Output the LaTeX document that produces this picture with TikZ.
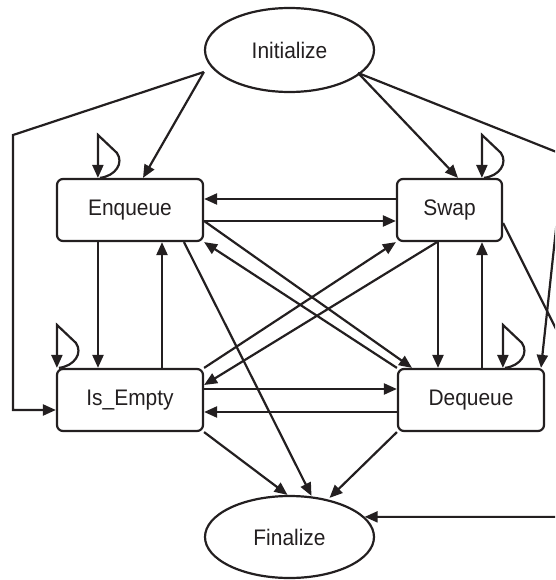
\documentclass[tikz,border=0pt]{standalone}
\usepackage{fontspec}
\setmainfont[FakeStretch=0.93]{Liberation Sans}
\usetikzlibrary{shapes.geometric,arrows.meta,calc}

% small self-transition drawn on the top edge of a state box
% #1 = node name, #2 = horizontal offset from the box's left edge
\newcommand\drawselfloop[2]{%
  \draw[edge] ($(#1.north west)+(#2+2,0)$)
      .. controls +(16,-2) and +(7,10) .. ($(#1.north west)+(#2+19,-25)$)
      -- ($(#1.north west)+(#2,-43)$) -- ($(#1.north west)+(#2,0)$);}

\begin{document}
\begin{tikzpicture}[x=1pt,y=-1pt,
  line width=2.2pt, draw={rgb,255:red,35;green,31;blue,32},
  every node/.style={font=\fontsize{22.5}{26}\selectfont, text={rgb,255:red,35;green,31;blue,32}},
  state/.style={draw, rounded corners=6pt, minimum height=62pt, inner sep=0pt},
  terminal/.style={draw, ellipse, minimum width=169pt, minimum height=84pt, inner sep=0pt},
  edge/.style={-{Triangle[length=13pt,width=11pt]}, line join=miter}]
  \clip (0,0) rectangle (555,580);

  % states
  \node[terminal] (init) at (289.5,50) {Initialize};
  \node[state, minimum width=146pt] (enq)  at (130,210)   {Enqueue};
  \node[state, minimum width=105pt] (swap) at (449.5,210) {Swap};
  \node[state, minimum width=146pt] (ise)  at (130,400)   {Is\_Empty};
  \node[state, minimum width=146pt] (deq)  at (471,400)   {Dequeue};
  \node[terminal, minimum height=82pt] (fin) at (289.5,537) {Finalize};

  % corner points just beside the initial state
  \coordinate (initL) at ($(init.west)+(0,22)$);
  \coordinate (initR) at ($(init.east)+(-17,23)$);

  % transitions out of Initialize
  \draw[edge] (initL) -- (143,0 |- enq.north);
  \draw[edge] (initL) -- (13,135) |- ($(ise.west)+(0,10)$);
  \draw[edge] (initR) -- (458,0 |- swap.north);
  \draw[edge] (initR) -- (564,155) -- (541,0 |- deq.north);

  % Enqueue <-> Swap, Is_Empty <-> Dequeue
  \draw[edge] ($(swap.west)+(0,-11)$) -- ($(enq.east)+(0,-11)$);
  \draw[edge] ($(enq.east)+(0,11)$) -- ($(swap.west)+(0,11)$);
  \draw[edge] ($(ise.east)+(0,-11)$) -- ($(deq.west)+(0,-11)$);
  \draw[edge] ($(deq.west)+(0,12)$) -- ($(ise.east)+(0,12)$);

  % vertical pairs
  \draw[edge] (98,0 |- enq.south) -- (98,0 |- ise.north);
  \draw[edge] (162,0 |- ise.north) -- (162,0 |- enq.south);
  \draw[edge] (438,0 |- swap.south) -- (438,0 |- deq.north);
  \draw[edge] (482,0 |- deq.north) -- (482,0 |- swap.south);

  % diagonals
  \draw[edge] ($(enq.east)+(0,11)$) -- (412,0 |- deq.north);
  \draw[edge] (deq.north west) -- (enq.south east);
  \draw[edge] (ise.north east) -- (swap.south west);
  \draw[edge] (437,0 |- swap.south) -- ($(ise.east)+(0,-15)$);

  % into Finalize
  \draw[edge] (184,0 |- enq.south) -- ($(fin.north)+(22,1)$);
  \draw[edge] (ise.south east) -- ($(fin.north)+(-2,0)$);
  \draw[edge] (deq.south west) -- ($(fin.north)+(40,3)$);
  \draw[edge] ($(swap.east)+(0,13)$) -- (563,343) |- (fin.15);

  % self-transitions
  \drawselfloop{enq}{42}
  \drawselfloop{swap}{86}
  \drawselfloop{ise}{1}
  \drawselfloop{deq}{106}
\end{tikzpicture}
\end{document}
